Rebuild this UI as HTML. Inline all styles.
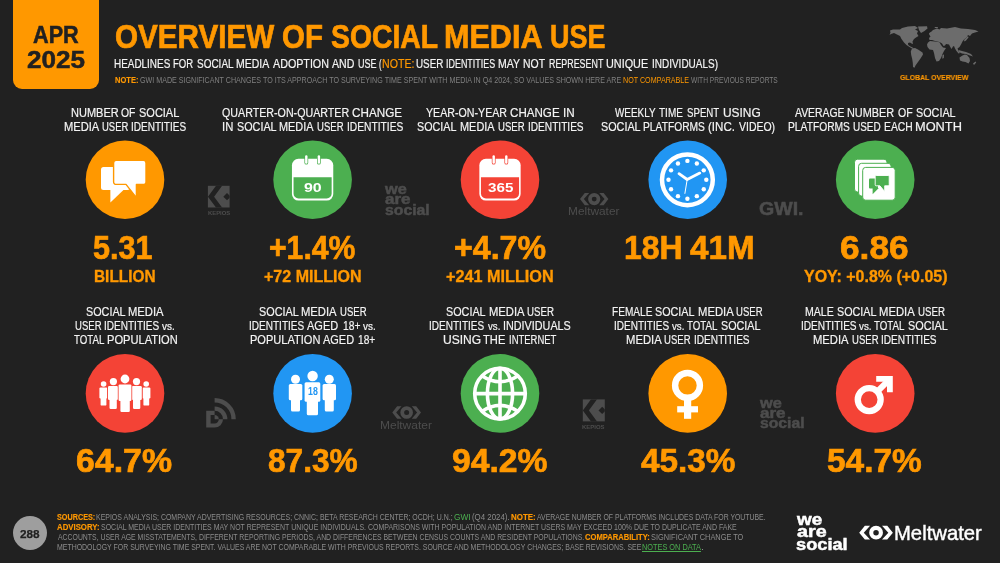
<!DOCTYPE html>
<html><head><meta charset="utf-8"><title>Overview of Social Media Use</title>
<style>
html,body{margin:0;padding:0}
body{width:1000px;height:563px;background:#212121;position:relative;overflow:hidden;-webkit-font-smoothing:antialiased;font-family:"Liberation Sans",sans-serif}
.t{position:absolute;white-space:nowrap;line-height:1;transform-origin:0 0;font-family:"Liberation Sans",sans-serif}
.abs{position:absolute}
</style></head><body>
<div id="slide" style="position:absolute;left:0;top:0;width:1000px;height:563px;will-change:transform;transform:translateZ(0)">
<div class="abs" style="left:13px;top:0;width:86px;height:88.7px;background:#ff9800;border-radius:0 0 9px 9px"></div>
<div class="abs" style="left:13px;top:515.7px;width:34px;height:34px;border-radius:50%;background:#9e9e9e"></div>
<svg class="abs" style="left:0;top:0" width="1000" height="563" viewBox="0 0 1000 563">
<polygon fill="#6c6c6c" points="890.0,30.5 893.0,29.5 900.0,29.5 902.0,28.0 908.0,26.5 915.0,26.0 918.0,28.0 915.0,29.5 918.0,31.0 917.0,33.5 918.5,36.0 916.0,37.5 914.0,39.0 912.5,41.5 913.0,44.0 911.5,43.5 910.0,42.5 908.0,43.0 908.2,45.0 910.5,46.5 912.5,47.5 914.0,48.5 912.0,48.5 909.5,47.0 906.5,45.0 904.0,42.5 901.5,39.0 900.0,36.0 897.0,34.5 894.0,33.0 891.0,34.0 889.5,35.0 890.5,32.5"/>
<polygon fill="#6c6c6c" points="918.0,26.5 927.0,26.2 927.5,28.5 924.5,31.0 921.0,33.0 919.0,30.0"/>
<polygon fill="#6c6c6c" points="912.0,48.5 915.0,48.0 918.0,49.5 922.5,52.5 923.0,54.5 920.5,58.5 918.0,62.0 915.5,65.5 914.5,67.8 913.0,67.0 912.8,63.0 912.2,59.0 911.2,55.0 910.8,51.5"/>
<polygon fill="#6c6c6c" points="929.0,33.5 931.5,31.5 933.0,30.0 937.0,28.5 939.5,29.5 941.0,28.0 947.0,28.5 955.0,27.0 961.0,28.5 968.0,29.0 975.0,30.0 978.5,31.5 975.0,32.5 972.0,33.5 970.0,36.0 968.0,35.0 966.5,37.5 964.0,39.5 962.5,41.5 961.0,44.5 959.5,47.0 957.5,48.5 958.5,51.0 960.0,53.0 958.5,53.5 956.5,51.0 955.0,48.5 954.0,46.0 953.0,46.5 951.5,49.0 950.0,46.5 949.0,44.5 946.0,44.0 945.0,45.5 943.5,46.0 942.0,43.5 939.5,42.0 937.0,41.5 935.0,41.0 932.0,40.0 929.5,40.0 929.0,38.0 930.5,36.5 929.5,35.0"/>
<polygon fill="#6c6c6c" points="928.0,42.5 930.0,41.0 935.0,41.5 939.5,42.2 941.0,45.0 943.0,47.5 946.0,48.0 944.0,51.0 942.5,54.0 941.0,58.0 939.0,61.0 936.5,61.5 935.0,58.0 934.0,53.0 933.0,50.0 929.5,49.5 927.5,47.0 927.0,44.5"/>
<polygon fill="#6c6c6c" points="959.5,57.5 962.5,55.5 965.0,54.5 967.0,55.0 969.5,58.0 970.0,61.0 968.5,63.5 965.5,62.0 962.5,61.5 960.0,60.5"/>
<polygon fill="#6c6c6c" points="958.5,50.0 962.0,51.0 966.0,52.0 971.0,54.0 973.0,56.5 970.0,55.5 966.0,54.0 962.0,53.5 959.0,52.0"/>
<polygon fill="#6c6c6c" points="942.5,55.0 944.0,54.5 943.8,58.0 942.3,58.8"/>
<polygon fill="#6c6c6c" points="973.0,63.5 975.5,61.5 976.2,62.5 974.0,65.0"/>
<polygon fill="#6c6c6c" points="964.0,40.0 966.5,37.5 968.0,36.0 968.5,37.5 966.0,40.5 964.5,41.5"/>
<polygon fill="#6c6c6c" points="929.0,33.5 930.5,32.0 931.2,34.0 930.0,35.0"/>
<polygon fill="#6c6c6c" points="934.5,27.0 938.0,27.0 937.5,28.2 935.0,28.0"/>
<circle cx="125" cy="179.7" r="39.3" fill="#ff9800"/>
<circle cx="312.6" cy="179.7" r="39.3" fill="#4caf50"/>
<circle cx="500" cy="179.7" r="39.3" fill="#f44336"/>
<circle cx="687.7" cy="179.7" r="39.3" fill="#2196f3"/>
<circle cx="875.2" cy="179.7" r="39.3" fill="#4caf50"/>
<circle cx="125" cy="393.4" r="39.3" fill="#f44336"/>
<circle cx="312.6" cy="393.4" r="39.3" fill="#2196f3"/>
<circle cx="500" cy="393.4" r="39.3" fill="#4caf50"/>
<circle cx="687.7" cy="393.4" r="39.3" fill="#ff9800"/>
<circle cx="875.2" cy="393.4" r="39.3" fill="#f44336"/>
<g fill="#fff"><rect x="101" y="167" width="29" height="23" rx="2.5"/><polygon points="110.4,189 110.4,202.4 124.5,189"/><g stroke="#ff9800" stroke-width="1.4" stroke-linejoin="round"><path d="M116.1,160.4 h27.4 a2.5,2.5 0 0 1 2.5,2.5 v19 a2.5,2.5 0 0 1 -2.5,2.5 h-7.1 v13.2 l-10.4,-13.2 h-9.9 a2.5,2.5 0 0 1 -2.5,-2.5 v-19 a2.5,2.5 0 0 1 2.5,-2.5 z"/></g></g>
<g><rect x="291.95" y="158.8" width="41.3" height="41.8" rx="6.5" fill="#fff"/>
<path d="M293.55,177.2 h38.1 v16.3 a5,5 0 0 1 -5,5 h-28.1 a5,5 0 0 1 -5,-5 z" fill="#4caf50"/>
<rect x="304.40" y="154.6" width="3.8" height="10" rx="1.9" fill="#4caf50"/>
<rect x="305.10" y="155.2" width="2.4" height="8.6" rx="1.2" fill="#fff"/>
<rect x="317.00" y="154.6" width="3.8" height="10" rx="1.9" fill="#4caf50"/>
<rect x="317.70" y="155.2" width="2.4" height="8.6" rx="1.2" fill="#fff"/>
</g>
<g><rect x="479.35" y="158.8" width="41.3" height="41.8" rx="6.5" fill="#fff"/>
<path d="M480.95,177.2 h38.1 v16.3 a5,5 0 0 1 -5,5 h-28.1 a5,5 0 0 1 -5,-5 z" fill="#f44336"/>
<rect x="491.80" y="154.6" width="3.8" height="10" rx="1.9" fill="#f44336"/>
<rect x="492.50" y="155.2" width="2.4" height="8.6" rx="1.2" fill="#fff"/>
<rect x="504.40" y="154.6" width="3.8" height="10" rx="1.9" fill="#f44336"/>
<rect x="505.10" y="155.2" width="2.4" height="8.6" rx="1.2" fill="#fff"/>
</g>
<g><circle cx="687.4" cy="179.8" r="25.4" fill="none" stroke="#fff" stroke-width="4.5"/>
<circle cx="687.40" cy="160.90" r="2.2" fill="#fff"/>
<circle cx="696.85" cy="163.43" r="2.2" fill="#fff"/>
<circle cx="703.77" cy="170.35" r="2.2" fill="#fff"/>
<circle cx="706.30" cy="179.80" r="2.2" fill="#fff"/>
<circle cx="703.77" cy="189.25" r="2.2" fill="#fff"/>
<circle cx="696.85" cy="196.17" r="2.2" fill="#fff"/>
<circle cx="687.40" cy="198.70" r="2.2" fill="#fff"/>
<circle cx="677.95" cy="196.17" r="2.2" fill="#fff"/>
<circle cx="671.03" cy="189.25" r="2.2" fill="#fff"/>
<circle cx="668.50" cy="179.80" r="2.2" fill="#fff"/>
<circle cx="671.03" cy="170.35" r="2.2" fill="#fff"/>
<circle cx="677.95" cy="163.43" r="2.2" fill="#fff"/>
<path d="M679,173.7 L687.2,179.5 L699.8,173.1" fill="none" stroke="#fff" stroke-width="2.8" stroke-linecap="round" stroke-linejoin="round"/>
<path d="M687.2,179.5 L684.9,193.4" stroke="#fff" stroke-width="1" stroke-linecap="round"/></g>
<rect x="854.5" y="159.2" width="32.5" height="32.8" rx="3" fill="#fff" stroke="#4caf50" stroke-width="1"/>
<rect x="858.6" y="163.3" width="32.5" height="32.8" rx="3" fill="#fff" stroke="#4caf50" stroke-width="1"/>
<rect x="862.7" y="167.4" width="32.5" height="32.8" rx="3" fill="#fff" stroke="#4caf50" stroke-width="1"/>
<g fill="#4caf50"><rect x="869" y="178.6" width="9" height="9.9" rx="1"/><polygon points="872.6,188 872.6,194.2 878.8,188"/><path d="M876.2,175.5 h12 a1,1 0 0 1 1,1 v8.3 a1,1 0 0 1 -1,1 h-3.5 v5.8 l-4.8,-5.8 h-3.7 a1,1 0 0 1 -1,-1 v-8.3 a1,1 0 0 1 1,-1 z" stroke="#fff" stroke-width="0.9"/></g>
<g fill="#fff"><circle cx="103.6" cy="384.0" r="2.8"/><rect x="99.4" y="387.4" width="8.0" height="11.1" rx="1.2"/><rect x="100.6" y="389.4" width="5.8" height="16.2" rx="1.2"/></g>
<g fill="#fff"><circle cx="146.2" cy="384.0" r="2.8"/><rect x="142.4" y="387.4" width="8.0" height="11.1" rx="1.2"/><rect x="143.4" y="389.4" width="5.8" height="16.2" rx="1.2"/></g>
<g fill="#f44336" stroke="#f44336" stroke-width="1.6"><circle cx="113.4" cy="381.6" r="3.6"/><rect x="108.0" y="386.0" width="10.0" height="14.0" rx="1.2"/><rect x="109.5" y="388.0" width="7.3" height="21.0" rx="1.2"/></g>
<g fill="#fff"><circle cx="113.4" cy="381.6" r="3.6"/><rect x="108.0" y="386.0" width="10.0" height="14.0" rx="1.2"/><rect x="109.5" y="388.0" width="7.3" height="21.0" rx="1.2"/></g>
<g fill="#f44336" stroke="#f44336" stroke-width="1.6"><circle cx="136.5" cy="381.6" r="3.6"/><rect x="131.8" y="386.0" width="10.0" height="14.0" rx="1.2"/><rect x="133.0" y="388.0" width="7.3" height="21.0" rx="1.2"/></g>
<g fill="#fff"><circle cx="136.5" cy="381.6" r="3.6"/><rect x="131.8" y="386.0" width="10.0" height="14.0" rx="1.2"/><rect x="133.0" y="388.0" width="7.3" height="21.0" rx="1.2"/></g>
<g fill="#f44336" stroke="#f44336" stroke-width="1.6"><circle cx="125.0" cy="379.0" r="4.4"/><rect x="118.6" y="384.4" width="12.8" height="16.6" rx="1.2"/><rect x="120.4" y="386.4" width="9.4" height="25.6" rx="1.2"/></g>
<g fill="#fff"><circle cx="125.0" cy="379.0" r="4.4"/><rect x="118.6" y="384.4" width="12.8" height="16.6" rx="1.2"/><rect x="120.4" y="386.4" width="9.4" height="25.6" rx="1.2"/></g>
<g fill="#fff"><circle cx="295.5" cy="379.2" r="4.5"/><rect x="288.8" y="384.1" width="13.5" height="16.2" rx="1.5"/><rect x="291.0" y="386.1" width="9.0" height="25.4" rx="1.5"/></g>
<g fill="#fff"><circle cx="329.3" cy="379.2" r="4.5"/><rect x="322.6" y="384.1" width="13.4" height="16.2" rx="1.5"/><rect x="324.8" y="386.1" width="9.0" height="25.4" rx="1.5"/></g>
<g fill="#2196f3" stroke="#2196f3" stroke-width="2"><circle cx="312.6" cy="376.0" r="5.2"/><rect x="304.6" y="382.3" width="15.7" height="19.4" rx="1.5"/><rect x="306.8" y="384.3" width="11.2" height="30.9" rx="1.5"/></g>
<g fill="#fff"><circle cx="312.6" cy="376.0" r="5.2"/><rect x="304.6" y="382.3" width="15.7" height="19.4" rx="1.5"/><rect x="306.8" y="384.3" width="11.2" height="30.9" rx="1.5"/></g>
<g fill="none" stroke="#fff" stroke-width="3.6"><circle cx="500" cy="393.6" r="25.3"/><ellipse cx="500" cy="393.6" rx="12.6" ry="25.3"/><path d="M500,367.6 v52 M474,393.6 h52"/>
<path d="M481.5,375.5 Q500,388 518.5,375.5 M481.5,411.7 Q500,399.2 518.5,411.7"/></g>
<g><circle cx="687.5" cy="385.4" r="12.4" fill="none" stroke="#fff" stroke-width="6.4"/><rect x="684" y="399" width="7.2" height="19.8" fill="#fff"/><rect x="677.2" y="406.2" width="20.8" height="6.2" fill="#fff"/></g>
<g><circle cx="869.2" cy="399.6" r="11.45" fill="none" stroke="#fff" stroke-width="6.3"/><path d="M876.5,392.3 L889.5,379.3" stroke="#fff" stroke-width="6"/><path d="M876.2,376 H892.8 V392.2 H887 V381.8 H876.2 Z" fill="#fff"/></g>
<g><rect x="207.9" y="185.8" width="21.7" height="21.7" fill="#4d4d4d"/>
<clipPath id="k207"><rect x="207.9" y="185.8" width="21.7" height="21.7"/></clipPath>
<g clip-path="url(#k207)"><path d="M220.5,183.8 L211.0,196.7 L220.5,209.5" fill="none" stroke="#212121" stroke-width="4.9"/>
<polygon points="223.3,196.7 227.0,193.0 230.7,196.7 227.0,200.3" fill="#212121"/></g></g>
<g><rect x="582.8" y="399.4" width="22.0" height="22.0" fill="#4d4d4d"/>
<clipPath id="k582"><rect x="582.8" y="399.4" width="22.0" height="22.0"/></clipPath>
<g clip-path="url(#k582)"><path d="M595.4,397.4 L585.9,410.4 L595.4,423.4" fill="none" stroke="#212121" stroke-width="4.9"/>
<polygon points="598.5,410.4 602.2,406.7 605.9,410.4 602.2,414.1" fill="#212121"/></g></g>
<g><polygon points="859.20,532.70 864.85,525.80 870.10,525.80 863.76,532.70 870.10,539.60 864.85,539.60" fill="#fff"/><polygon points="892.90,532.70 887.25,525.80 882.00,525.80 888.34,532.70 882.00,539.60 887.25,539.60" fill="#fff"/>
<circle cx="876.05" cy="532.70" r="8.09" fill="#212121"/>
<circle cx="876.05" cy="532.70" r="4.83" fill="none" stroke="#fff" stroke-width="4.14"/></g>
<g><polygon points="580.00,199.10 584.76,193.00 589.19,193.00 583.84,199.10 589.19,205.20 584.76,205.20" fill="#4d4d4d"/><polygon points="608.40,199.10 603.64,193.00 599.21,193.00 604.56,199.10 599.21,205.20 603.64,205.20" fill="#4d4d4d"/>
<circle cx="594.20" cy="199.10" r="7.10" fill="#212121"/>
<circle cx="594.20" cy="199.10" r="4.27" fill="none" stroke="#4d4d4d" stroke-width="3.66"/></g>
<g><polygon points="392.30,412.50 397.11,406.20 401.59,406.20 396.18,412.50 401.59,418.80 397.11,418.80" fill="#4d4d4d"/><polygon points="421.00,412.50 416.19,406.20 411.71,406.20 417.12,412.50 411.71,418.80 416.19,418.80" fill="#4d4d4d"/>
<circle cx="406.65" cy="412.50" r="7.31" fill="#212121"/>
<circle cx="406.65" cy="412.50" r="4.41" fill="none" stroke="#4d4d4d" stroke-width="3.78"/></g>
<g>
<path d="M214.60,410.80 H206.20 V427.60 H214.60 A8.4,8.4 0 0 0 223.00,419.20 H218.80 A4.2,4.2 0 0 1 214.60,423.40 H210.60 V415.00 H214.60 V410.80 Z" fill="#4d4d4d"/>
<path d="M214.60,419.20 V415.00 A4.2,4.2 0 0 1 218.80,419.20 Z" fill="#4d4d4d"/>
<path d="M214.60,408.60 A10.60,10.60 0 0 1 225.20,419.20" fill="none" stroke="#4d4d4d" stroke-width="4.40"/>
<path d="M214.60,400.20 A19.00,19.00 0 0 1 233.60,419.20" fill="none" stroke="#4d4d4d" stroke-width="4.40"/>
</g>
</svg>
<span class="t" style="left:32.91px;top:23.25px;font-size:23.84px;font-weight:700;color:#212121;transform:scaleX(0.9093);-webkit-text-stroke:0.5px #212121;">APR</span>
<span class="t" style="left:26.69px;top:48.00px;font-size:24.13px;font-weight:700;color:#212121;transform:scaleX(1.0806);-webkit-text-stroke:0.5px #212121;">2025</span>
<span class="t" style="left:115.17px;top:21.25px;font-size:32.34px;font-weight:700;color:#ff9800;transform:scaleX(0.9171);-webkit-text-stroke:0.7px #ff9800;">OVERVIEW</span>
<span class="t" style="left:282.38px;top:21.25px;font-size:32.34px;font-weight:700;color:#ff9800;transform:scaleX(0.9104);-webkit-text-stroke:0.7px #ff9800;">OF</span>
<span class="t" style="left:330.96px;top:21.25px;font-size:32.34px;font-weight:700;color:#ff9800;transform:scaleX(0.8771);-webkit-text-stroke:0.7px #ff9800;">SOCIAL</span>
<span class="t" style="left:444.09px;top:21.25px;font-size:32.34px;font-weight:700;color:#ff9800;transform:scaleX(0.9455);-webkit-text-stroke:0.7px #ff9800;">MEDIA</span>
<span class="t" style="left:549.74px;top:21.25px;font-size:32.34px;font-weight:700;color:#ff9800;transform:scaleX(0.8329);-webkit-text-stroke:0.7px #ff9800;">USE</span>
<span class="t" style="left:114.22px;top:58.00px;font-size:12.21px;font-weight:400;color:#f4f4f4;transform:scaleX(0.8133);-webkit-text-stroke:0.2px #f4f4f4;">HEADLINES</span>
<span class="t" style="left:173.26px;top:58.00px;font-size:12.21px;font-weight:400;color:#f4f4f4;transform:scaleX(0.7801);-webkit-text-stroke:0.2px #f4f4f4;">FOR</span>
<span class="t" style="left:196.69px;top:58.00px;font-size:12.21px;font-weight:400;color:#f4f4f4;transform:scaleX(0.8176);-webkit-text-stroke:0.2px #f4f4f4;">SOCIAL</span>
<span class="t" style="left:236.18px;top:58.00px;font-size:12.21px;font-weight:400;color:#f4f4f4;transform:scaleX(0.8591);-webkit-text-stroke:0.2px #f4f4f4;">MEDIA</span>
<span class="t" style="left:273.00px;top:58.00px;font-size:12.21px;font-weight:400;color:#f4f4f4;transform:scaleX(0.8777);-webkit-text-stroke:0.2px #f4f4f4;">ADOPTION</span>
<span class="t" style="left:332.00px;top:58.00px;font-size:12.21px;font-weight:400;color:#f4f4f4;transform:scaleX(0.8692);-webkit-text-stroke:0.2px #f4f4f4;">AND</span>
<span class="t" style="left:357.84px;top:58.00px;font-size:12.21px;font-weight:400;color:#f4f4f4;transform:scaleX(0.7399);-webkit-text-stroke:0.2px #f4f4f4;">USE</span>
<span class="t" style="left:379.03px;top:58.00px;font-size:12.21px;font-weight:400;color:#f4f4f4;transform:scaleX(0.6413);-webkit-text-stroke:0.2px #f4f4f4;">(</span>
<span class="t" style="left:381.57px;top:58.00px;font-size:12.21px;font-weight:400;color:#ff9800;transform:scaleX(0.8695);-webkit-text-stroke:0.2px #ff9800;">NOTE:</span>
<span class="t" style="left:415.98px;top:58.00px;font-size:12.21px;font-weight:400;color:#f4f4f4;transform:scaleX(0.8076);-webkit-text-stroke:0.2px #f4f4f4;">USER</span>
<span class="t" style="left:446.30px;top:58.00px;font-size:12.21px;font-weight:400;color:#f4f4f4;transform:scaleX(0.7319);-webkit-text-stroke:0.2px #f4f4f4;">IDENTITIES</span>
<span class="t" style="left:498.18px;top:58.00px;font-size:12.21px;font-weight:400;color:#f4f4f4;transform:scaleX(0.8596);-webkit-text-stroke:0.2px #f4f4f4;">MAY</span>
<span class="t" style="left:523.18px;top:58.00px;font-size:12.21px;font-weight:400;color:#f4f4f4;transform:scaleX(0.8546);-webkit-text-stroke:0.2px #f4f4f4;">NOT</span>
<span class="t" style="left:548.91px;top:58.00px;font-size:12.21px;font-weight:400;color:#f4f4f4;transform:scaleX(0.7281);-webkit-text-stroke:0.2px #f4f4f4;">REPRESENT</span>
<span class="t" style="left:606.32px;top:58.00px;font-size:12.21px;font-weight:400;color:#f4f4f4;transform:scaleX(0.8888);-webkit-text-stroke:0.2px #f4f4f4;">UNIQUE</span>
<span class="t" style="left:651.62px;top:58.00px;font-size:12.21px;font-weight:400;color:#f4f4f4;transform:scaleX(0.8176);-webkit-text-stroke:0.2px #f4f4f4;">INDIVIDUALS)</span>
<span class="t" style="left:114.53px;top:76.70px;font-size:8.14px;font-weight:700;color:#ff9800;transform:scaleX(0.9296);-webkit-text-stroke:0.15px #ff9800;">NOTE:</span>
<span class="t" style="left:140.07px;top:76.70px;font-size:8.14px;font-weight:400;color:#808080;transform:scaleX(0.8773);">GWI MADE SIGNIFICANT CHANGES TO ITS APPROACH TO SURVEYING TIME SPENT WITH MEDIA IN Q4 2024, SO VALUES SHOWN HERE ARE</span>
<span class="t" style="left:623.19px;top:76.70px;font-size:8.14px;font-weight:400;color:#ff9800;transform:scaleX(0.8802);">NOT COMPARABLE</span>
<span class="t" style="left:691.00px;top:76.70px;font-size:8.14px;font-weight:400;color:#808080;transform:scaleX(0.8157);">WITH PREVIOUS REPORTS</span>
<span class="t" style="left:899.58px;top:73.90px;font-size:7.70px;font-weight:700;color:#ff9800;transform:scaleX(0.9023);-webkit-text-stroke:0.15px #ff9800;">GLOBAL OVERVIEW</span>
<span class="t" style="left:70.54px;top:105.50px;font-size:13.08px;font-weight:400;color:#f4f4f4;transform:scaleX(0.8422);-webkit-text-stroke:0.2px #f4f4f4;">NUMBER</span>
<span class="t" style="left:121.31px;top:105.50px;font-size:13.08px;font-weight:400;color:#f4f4f4;transform:scaleX(0.7939);-webkit-text-stroke:0.2px #f4f4f4;">OF</span>
<span class="t" style="left:138.96px;top:105.50px;font-size:13.08px;font-weight:400;color:#f4f4f4;transform:scaleX(0.8402);-webkit-text-stroke:0.2px #f4f4f4;">SOCIAL</span>
<span class="t" style="left:63.73px;top:119.60px;font-size:13.08px;font-weight:400;color:#f4f4f4;transform:scaleX(0.8501);-webkit-text-stroke:0.2px #f4f4f4;">MEDIA</span>
<span class="t" style="left:102.31px;top:119.60px;font-size:13.08px;font-weight:400;color:#f4f4f4;transform:scaleX(0.7242);-webkit-text-stroke:0.2px #f4f4f4;">USER</span>
<span class="t" style="left:131.42px;top:119.60px;font-size:13.08px;font-weight:400;color:#f4f4f4;transform:scaleX(0.7660);-webkit-text-stroke:0.2px #f4f4f4;">IDENTITIES</span>
<span class="t" style="left:222.30px;top:105.50px;font-size:13.08px;font-weight:400;color:#f4f4f4;transform:scaleX(0.8165);-webkit-text-stroke:0.2px #f4f4f4;">QUARTER-ON-QUARTER</span>
<span class="t" style="left:352.35px;top:105.50px;font-size:13.08px;font-weight:400;color:#f4f4f4;transform:scaleX(0.8943);-webkit-text-stroke:0.2px #f4f4f4;">CHANGE</span>
<span class="t" style="left:221.92px;top:119.60px;font-size:13.08px;font-weight:400;color:#f4f4f4;transform:scaleX(0.8632);-webkit-text-stroke:0.2px #f4f4f4;">IN</span>
<span class="t" style="left:236.66px;top:119.60px;font-size:13.08px;font-weight:400;color:#f4f4f4;transform:scaleX(0.8254);-webkit-text-stroke:0.2px #f4f4f4;">SOCIAL</span>
<span class="t" style="left:279.45px;top:119.60px;font-size:13.08px;font-weight:400;color:#f4f4f4;transform:scaleX(0.8328);-webkit-text-stroke:0.2px #f4f4f4;">MEDIA</span>
<span class="t" style="left:317.20px;top:119.60px;font-size:13.08px;font-weight:400;color:#f4f4f4;transform:scaleX(0.7299);-webkit-text-stroke:0.2px #f4f4f4;">USER</span>
<span class="t" style="left:346.80px;top:119.60px;font-size:13.08px;font-weight:400;color:#f4f4f4;transform:scaleX(0.7830);-webkit-text-stroke:0.2px #f4f4f4;">IDENTITIES</span>
<span class="t" style="left:425.63px;top:105.50px;font-size:13.08px;font-weight:400;color:#f4f4f4;transform:scaleX(0.8139);-webkit-text-stroke:0.2px #f4f4f4;">YEAR-ON-YEAR</span>
<span class="t" style="left:509.86px;top:105.50px;font-size:13.08px;font-weight:400;color:#f4f4f4;transform:scaleX(0.8870);-webkit-text-stroke:0.2px #f4f4f4;">CHANGE</span>
<span class="t" style="left:563.49px;top:105.50px;font-size:13.08px;font-weight:400;color:#f4f4f4;transform:scaleX(0.8905);-webkit-text-stroke:0.2px #f4f4f4;">IN</span>
<span class="t" style="left:417.26px;top:119.60px;font-size:13.08px;font-weight:400;color:#f4f4f4;transform:scaleX(0.8212);-webkit-text-stroke:0.2px #f4f4f4;">SOCIAL</span>
<span class="t" style="left:459.95px;top:119.60px;font-size:13.08px;font-weight:400;color:#f4f4f4;transform:scaleX(0.8353);-webkit-text-stroke:0.2px #f4f4f4;">MEDIA</span>
<span class="t" style="left:498.00px;top:119.60px;font-size:13.08px;font-weight:400;color:#f4f4f4;transform:scaleX(0.7328);-webkit-text-stroke:0.2px #f4f4f4;">USER</span>
<span class="t" style="left:527.61px;top:119.60px;font-size:13.08px;font-weight:400;color:#f4f4f4;transform:scaleX(0.7731);-webkit-text-stroke:0.2px #f4f4f4;">IDENTITIES</span>
<span class="t" style="left:615.30px;top:105.50px;font-size:13.08px;font-weight:400;color:#f4f4f4;transform:scaleX(0.7583);-webkit-text-stroke:0.2px #f4f4f4;">WEEKLY</span>
<span class="t" style="left:659.34px;top:105.50px;font-size:13.08px;font-weight:400;color:#f4f4f4;transform:scaleX(0.7640);-webkit-text-stroke:0.2px #f4f4f4;">TIME</span>
<span class="t" style="left:686.80px;top:105.50px;font-size:13.08px;font-weight:400;color:#f4f4f4;transform:scaleX(0.7399);-webkit-text-stroke:0.2px #f4f4f4;">SPENT</span>
<span class="t" style="left:722.56px;top:105.50px;font-size:13.08px;font-weight:400;color:#f4f4f4;transform:scaleX(0.9110);-webkit-text-stroke:0.2px #f4f4f4;">USING</span>
<span class="t" style="left:600.86px;top:119.60px;font-size:13.08px;font-weight:400;color:#f4f4f4;transform:scaleX(0.8254);-webkit-text-stroke:0.2px #f4f4f4;">SOCIAL</span>
<span class="t" style="left:643.40px;top:119.60px;font-size:13.08px;font-weight:400;color:#f4f4f4;transform:scaleX(0.7843);-webkit-text-stroke:0.2px #f4f4f4;">PLATFORMS</span>
<span class="t" style="left:708.06px;top:119.60px;font-size:13.08px;font-weight:400;color:#f4f4f4;transform:scaleX(0.8844);-webkit-text-stroke:0.2px #f4f4f4;">(INC.</span>
<span class="t" style="left:738.60px;top:119.60px;font-size:13.08px;font-weight:400;color:#f4f4f4;transform:scaleX(0.7998);-webkit-text-stroke:0.2px #f4f4f4;">VIDEO)</span>
<span class="t" style="left:794.70px;top:105.50px;font-size:13.08px;font-weight:400;color:#f4f4f4;transform:scaleX(0.7956);-webkit-text-stroke:0.2px #f4f4f4;">AVERAGE</span>
<span class="t" style="left:847.15px;top:105.50px;font-size:13.08px;font-weight:400;color:#f4f4f4;transform:scaleX(0.8332);-webkit-text-stroke:0.2px #f4f4f4;">NUMBER</span>
<span class="t" style="left:897.61px;top:105.50px;font-size:13.08px;font-weight:400;color:#f4f4f4;transform:scaleX(0.8056);-webkit-text-stroke:0.2px #f4f4f4;">OF</span>
<span class="t" style="left:915.76px;top:105.50px;font-size:13.08px;font-weight:400;color:#f4f4f4;transform:scaleX(0.8254);-webkit-text-stroke:0.2px #f4f4f4;">SOCIAL</span>
<span class="t" style="left:788.40px;top:119.60px;font-size:13.08px;font-weight:400;color:#f4f4f4;transform:scaleX(0.7843);-webkit-text-stroke:0.2px #f4f4f4;">PLATFORMS</span>
<span class="t" style="left:853.28px;top:119.60px;font-size:13.08px;font-weight:400;color:#f4f4f4;transform:scaleX(0.7613);-webkit-text-stroke:0.2px #f4f4f4;">USED</span>
<span class="t" style="left:883.99px;top:119.60px;font-size:13.08px;font-weight:400;color:#f4f4f4;transform:scaleX(0.7911);-webkit-text-stroke:0.2px #f4f4f4;">EACH</span>
<span class="t" style="left:915.10px;top:119.60px;font-size:13.08px;font-weight:400;color:#f4f4f4;transform:scaleX(0.9790);-webkit-text-stroke:0.2px #f4f4f4;">MONTH</span>
<span class="t" style="left:93.27px;top:230.75px;font-size:33.58px;font-weight:700;color:#ff9800;transform:scaleX(0.9106);-webkit-text-stroke:0.7px #ff9800;">5.31</span>
<span class="t" style="left:269.06px;top:230.75px;font-size:33.58px;font-weight:700;color:#ff9800;transform:scaleX(0.8987);-webkit-text-stroke:0.7px #ff9800;">+1.4%</span>
<span class="t" style="left:453.50px;top:230.75px;font-size:33.58px;font-weight:700;color:#ff9800;transform:scaleX(0.9568);-webkit-text-stroke:0.7px #ff9800;">+4.7%</span>
<span class="t" style="left:623.50px;top:230.75px;font-size:33.58px;font-weight:700;color:#ff9800;transform:scaleX(0.9517);-webkit-text-stroke:0.7px #ff9800;">18H</span>
<span class="t" style="left:689.50px;top:230.75px;font-size:33.58px;font-weight:700;color:#ff9800;transform:scaleX(0.9896);-webkit-text-stroke:0.7px #ff9800;">41M</span>
<span class="t" style="left:840.10px;top:230.75px;font-size:33.58px;font-weight:700;color:#ff9800;transform:scaleX(1.0498);-webkit-text-stroke:0.7px #ff9800;">6.86</span>
<span class="t" style="left:94.04px;top:268.50px;font-size:15.99px;font-weight:700;color:#ff9800;transform:scaleX(0.9624);-webkit-text-stroke:0.35px #ff9800;">BILLION</span>
<span class="t" style="left:264.00px;top:268.50px;font-size:15.99px;font-weight:700;color:#ff9800;transform:scaleX(1.0040);-webkit-text-stroke:0.35px #ff9800;">+72 MILLION</span>
<span class="t" style="left:445.99px;top:268.50px;font-size:15.99px;font-weight:700;color:#ff9800;transform:scaleX(1.0144);-webkit-text-stroke:0.35px #ff9800;">+241 MILLION</span>
<span class="t" style="left:803.95px;top:268.50px;font-size:15.99px;font-weight:700;color:#ff9800;transform:scaleX(0.9988);-webkit-text-stroke:0.35px #ff9800;">YOY: +0.8% (+0.05)</span>
<span class="t" style="left:86.26px;top:305.10px;font-size:13.08px;font-weight:400;color:#f4f4f4;transform:scaleX(0.8254);-webkit-text-stroke:0.2px #f4f4f4;">SOCIAL</span>
<span class="t" style="left:128.32px;top:305.10px;font-size:13.08px;font-weight:400;color:#f4f4f4;transform:scaleX(0.8600);-webkit-text-stroke:0.2px #f4f4f4;">MEDIA</span>
<span class="t" style="left:75.40px;top:319.00px;font-size:13.08px;font-weight:400;color:#f4f4f4;transform:scaleX(0.7299);-webkit-text-stroke:0.2px #f4f4f4;">USER</span>
<span class="t" style="left:104.42px;top:319.00px;font-size:13.08px;font-weight:400;color:#f4f4f4;transform:scaleX(0.7674);-webkit-text-stroke:0.2px #f4f4f4;">IDENTITIES</span>
<span class="t" style="left:162.40px;top:322.00px;font-size:10.30px;font-weight:400;color:#f4f4f4;transform:scaleX(0.9639);-webkit-text-stroke:0.2px #f4f4f4;">vs.</span>
<span class="t" style="left:73.85px;top:333.00px;font-size:13.08px;font-weight:400;color:#f4f4f4;transform:scaleX(0.7422);-webkit-text-stroke:0.2px #f4f4f4;">TOTAL</span>
<span class="t" style="left:106.73px;top:333.00px;font-size:13.08px;font-weight:400;color:#f4f4f4;transform:scaleX(0.8492);-webkit-text-stroke:0.2px #f4f4f4;">POPULATION</span>
<span class="t" style="left:258.86px;top:305.10px;font-size:13.08px;font-weight:400;color:#f4f4f4;transform:scaleX(0.8275);-webkit-text-stroke:0.2px #f4f4f4;">SOCIAL</span>
<span class="t" style="left:301.12px;top:305.10px;font-size:13.08px;font-weight:400;color:#f4f4f4;transform:scaleX(0.8600);-webkit-text-stroke:0.2px #f4f4f4;">MEDIA</span>
<span class="t" style="left:339.60px;top:305.10px;font-size:13.08px;font-weight:400;color:#f4f4f4;transform:scaleX(0.7299);-webkit-text-stroke:0.2px #f4f4f4;">USER</span>
<span class="t" style="left:249.32px;top:319.00px;font-size:13.08px;font-weight:400;color:#f4f4f4;transform:scaleX(0.7674);-webkit-text-stroke:0.2px #f4f4f4;">IDENTITIES</span>
<span class="t" style="left:307.40px;top:319.00px;font-size:13.08px;font-weight:400;color:#f4f4f4;transform:scaleX(0.8410);-webkit-text-stroke:0.2px #f4f4f4;">AGED</span>
<span class="t" style="left:342.96px;top:319.00px;font-size:13.08px;font-weight:400;color:#f4f4f4;transform:scaleX(0.7853);-webkit-text-stroke:0.2px #f4f4f4;">18+</span>
<span class="t" style="left:363.10px;top:322.00px;font-size:10.30px;font-weight:400;color:#f4f4f4;transform:scaleX(0.9639);-webkit-text-stroke:0.2px #f4f4f4;">vs.</span>
<span class="t" style="left:249.84px;top:333.00px;font-size:13.08px;font-weight:400;color:#f4f4f4;transform:scaleX(0.8443);-webkit-text-stroke:0.2px #f4f4f4;">POPULATION</span>
<span class="t" style="left:323.00px;top:333.00px;font-size:13.08px;font-weight:400;color:#f4f4f4;transform:scaleX(0.8382);-webkit-text-stroke:0.2px #f4f4f4;">AGED</span>
<span class="t" style="left:358.47px;top:333.00px;font-size:13.08px;font-weight:400;color:#f4f4f4;transform:scaleX(0.7757);-webkit-text-stroke:0.2px #f4f4f4;">18+</span>
<span class="t" style="left:446.36px;top:305.10px;font-size:13.08px;font-weight:400;color:#f4f4f4;transform:scaleX(0.8254);-webkit-text-stroke:0.2px #f4f4f4;">SOCIAL</span>
<span class="t" style="left:488.62px;top:305.10px;font-size:13.08px;font-weight:400;color:#f4f4f4;transform:scaleX(0.8600);-webkit-text-stroke:0.2px #f4f4f4;">MEDIA</span>
<span class="t" style="left:527.09px;top:305.10px;font-size:13.08px;font-weight:400;color:#f4f4f4;transform:scaleX(0.7413);-webkit-text-stroke:0.2px #f4f4f4;">USER</span>
<span class="t" style="left:429.42px;top:319.00px;font-size:13.08px;font-weight:400;color:#f4f4f4;transform:scaleX(0.7674);-webkit-text-stroke:0.2px #f4f4f4;">IDENTITIES</span>
<span class="t" style="left:487.70px;top:322.00px;font-size:10.30px;font-weight:400;color:#f4f4f4;transform:scaleX(0.9394);-webkit-text-stroke:0.2px #f4f4f4;">vs.</span>
<span class="t" style="left:502.86px;top:319.00px;font-size:13.08px;font-weight:400;color:#f4f4f4;transform:scaleX(0.8255);-webkit-text-stroke:0.2px #f4f4f4;">INDIVIDUALS</span>
<span class="t" style="left:442.95px;top:333.00px;font-size:13.08px;font-weight:400;color:#f4f4f4;transform:scaleX(0.9211);-webkit-text-stroke:0.2px #f4f4f4;">USING</span>
<span class="t" style="left:483.33px;top:333.00px;font-size:13.08px;font-weight:400;color:#f4f4f4;transform:scaleX(0.8537);-webkit-text-stroke:0.2px #f4f4f4;">THE</span>
<span class="t" style="left:508.56px;top:333.00px;font-size:13.08px;font-weight:400;color:#f4f4f4;transform:scaleX(0.7247);-webkit-text-stroke:0.2px #f4f4f4;">INTERNET</span>
<span class="t" style="left:611.81px;top:305.10px;font-size:13.08px;font-weight:400;color:#f4f4f4;transform:scaleX(0.7723);-webkit-text-stroke:0.2px #f4f4f4;">FEMALE</span>
<span class="t" style="left:655.46px;top:305.10px;font-size:13.08px;font-weight:400;color:#f4f4f4;transform:scaleX(0.8233);-webkit-text-stroke:0.2px #f4f4f4;">SOCIAL</span>
<span class="t" style="left:697.62px;top:305.10px;font-size:13.08px;font-weight:400;color:#f4f4f4;transform:scaleX(0.8625);-webkit-text-stroke:0.2px #f4f4f4;">MEDIA</span>
<span class="t" style="left:736.30px;top:305.10px;font-size:13.08px;font-weight:400;color:#f4f4f4;transform:scaleX(0.7299);-webkit-text-stroke:0.2px #f4f4f4;">USER</span>
<span class="t" style="left:613.92px;top:319.00px;font-size:13.08px;font-weight:400;color:#f4f4f4;transform:scaleX(0.7660);-webkit-text-stroke:0.2px #f4f4f4;">IDENTITIES</span>
<span class="t" style="left:672.30px;top:322.00px;font-size:10.30px;font-weight:400;color:#f4f4f4;transform:scaleX(0.9394);-webkit-text-stroke:0.2px #f4f4f4;">vs.</span>
<span class="t" style="left:686.85px;top:319.00px;font-size:13.08px;font-weight:400;color:#f4f4f4;transform:scaleX(0.7446);-webkit-text-stroke:0.2px #f4f4f4;">TOTAL</span>
<span class="t" style="left:721.06px;top:319.00px;font-size:13.08px;font-weight:400;color:#f4f4f4;transform:scaleX(0.8233);-webkit-text-stroke:0.2px #f4f4f4;">SOCIAL</span>
<span class="t" style="left:625.62px;top:333.00px;font-size:13.08px;font-weight:400;color:#f4f4f4;transform:scaleX(0.8625);-webkit-text-stroke:0.2px #f4f4f4;">MEDIA</span>
<span class="t" style="left:664.30px;top:333.00px;font-size:13.08px;font-weight:400;color:#f4f4f4;transform:scaleX(0.7299);-webkit-text-stroke:0.2px #f4f4f4;">USER</span>
<span class="t" style="left:693.91px;top:333.00px;font-size:13.08px;font-weight:400;color:#f4f4f4;transform:scaleX(0.7731);-webkit-text-stroke:0.2px #f4f4f4;">IDENTITIES</span>
<span class="t" style="left:805.07px;top:305.10px;font-size:13.08px;font-weight:400;color:#f4f4f4;transform:scaleX(0.8075);-webkit-text-stroke:0.2px #f4f4f4;">MALE</span>
<span class="t" style="left:837.06px;top:305.10px;font-size:13.08px;font-weight:400;color:#f4f4f4;transform:scaleX(0.8233);-webkit-text-stroke:0.2px #f4f4f4;">SOCIAL</span>
<span class="t" style="left:879.22px;top:305.10px;font-size:13.08px;font-weight:400;color:#f4f4f4;transform:scaleX(0.8625);-webkit-text-stroke:0.2px #f4f4f4;">MEDIA</span>
<span class="t" style="left:917.89px;top:305.10px;font-size:13.08px;font-weight:400;color:#f4f4f4;transform:scaleX(0.7442);-webkit-text-stroke:0.2px #f4f4f4;">USER</span>
<span class="t" style="left:800.61px;top:319.00px;font-size:13.08px;font-weight:400;color:#f4f4f4;transform:scaleX(0.7731);-webkit-text-stroke:0.2px #f4f4f4;">IDENTITIES</span>
<span class="t" style="left:859.30px;top:322.00px;font-size:10.30px;font-weight:400;color:#f4f4f4;transform:scaleX(0.9558);-webkit-text-stroke:0.2px #f4f4f4;">vs.</span>
<span class="t" style="left:874.35px;top:319.00px;font-size:13.08px;font-weight:400;color:#f4f4f4;transform:scaleX(0.7446);-webkit-text-stroke:0.2px #f4f4f4;">TOTAL</span>
<span class="t" style="left:908.26px;top:319.00px;font-size:13.08px;font-weight:400;color:#f4f4f4;transform:scaleX(0.8296);-webkit-text-stroke:0.2px #f4f4f4;">SOCIAL</span>
<span class="t" style="left:813.02px;top:333.00px;font-size:13.08px;font-weight:400;color:#f4f4f4;transform:scaleX(0.8576);-webkit-text-stroke:0.2px #f4f4f4;">MEDIA</span>
<span class="t" style="left:851.70px;top:333.00px;font-size:13.08px;font-weight:400;color:#f4f4f4;transform:scaleX(0.7299);-webkit-text-stroke:0.2px #f4f4f4;">USER</span>
<span class="t" style="left:881.41px;top:333.00px;font-size:13.08px;font-weight:400;color:#f4f4f4;transform:scaleX(0.7731);-webkit-text-stroke:0.2px #f4f4f4;">IDENTITIES</span>
<span class="t" style="left:76.44px;top:444.00px;font-size:33.58px;font-weight:700;color:#ff9800;transform:scaleX(1.0091);-webkit-text-stroke:0.7px #ff9800;">64.7%</span>
<span class="t" style="left:267.76px;top:444.00px;font-size:33.58px;font-weight:700;color:#ff9800;transform:scaleX(0.9424);-webkit-text-stroke:0.7px #ff9800;">87.3%</span>
<span class="t" style="left:451.95px;top:444.00px;font-size:33.58px;font-weight:700;color:#ff9800;transform:scaleX(1.0038);-webkit-text-stroke:0.7px #ff9800;">94.2%</span>
<span class="t" style="left:640.50px;top:444.00px;font-size:33.58px;font-weight:700;color:#ff9800;transform:scaleX(0.9926);-webkit-text-stroke:0.7px #ff9800;">45.3%</span>
<span class="t" style="left:827.48px;top:444.00px;font-size:33.58px;font-weight:700;color:#ff9800;transform:scaleX(0.9950);-webkit-text-stroke:0.7px #ff9800;">54.7%</span>
<span class="t" style="left:57.39px;top:514.00px;font-size:8.14px;font-weight:700;color:#ff9800;transform:scaleX(0.8910);-webkit-text-stroke:0.15px #ff9800;">SOURCES:</span>
<span class="t" style="left:96.45px;top:514.00px;font-size:8.14px;font-weight:400;color:#8c8c8c;transform:scaleX(0.8572);">KEPIOS ANALYSIS; COMPANY ADVERTISING RESOURCES; CNNIC; BETA RESEARCH CENTER; OCDH; U.N.;</span>
<span class="t" style="left:454.11px;top:514.00px;font-size:8.14px;font-weight:400;color:#4caf50;transform:scaleX(1.0242);">GWI</span>
<span class="t" style="left:472.13px;top:514.00px;font-size:8.14px;font-weight:400;color:#8c8c8c;transform:scaleX(0.9675);">(Q4 2024).</span>
<span class="t" style="left:511.00px;top:514.00px;font-size:8.14px;font-weight:700;color:#ff9800;transform:scaleX(0.9752);-webkit-text-stroke:0.15px #ff9800;">NOTE:</span>
<span class="t" style="left:537.00px;top:514.00px;font-size:8.14px;font-weight:400;color:#8c8c8c;transform:scaleX(0.8478);">AVERAGE NUMBER OF PLATFORMS INCLUDES DATA FOR YOUTUBE.</span>
<span class="t" style="left:57.38px;top:524.25px;font-size:8.14px;font-weight:700;color:#ff9800;transform:scaleX(0.9609);-webkit-text-stroke:0.15px #ff9800;">ADVISORY:</span>
<span class="t" style="left:101.03px;top:524.25px;font-size:8.14px;font-weight:400;color:#8c8c8c;transform:scaleX(0.8595);">SOCIAL MEDIA USER IDENTITIES MAY NOT REPRESENT UNIQUE INDIVIDUALS. COMPARISONS WITH POPULATION AND INTERNET USERS MAY EXCEED 100% DUE TO DUPLICATE AND FAKE</span>
<span class="t" style="left:57.50px;top:534.25px;font-size:8.14px;font-weight:400;color:#8c8c8c;transform:scaleX(0.8476);">ACCOUNTS, USER AGE MISSTATEMENTS, DIFFERENT REPORTING PERIODS, AND DIFFERENCES BETWEEN CENSUS COUNTS AND RESIDENT POPULATIONS.</span>
<span class="t" style="left:585.36px;top:534.25px;font-size:8.14px;font-weight:700;color:#ff9800;transform:scaleX(0.9357);-webkit-text-stroke:0.15px #ff9800;">COMPARABILITY:</span>
<span class="t" style="left:651.37px;top:534.25px;font-size:8.14px;font-weight:400;color:#8c8c8c;transform:scaleX(0.9092);">SIGNIFICANT CHANGE TO</span>
<span class="t" style="left:56.96px;top:544.25px;font-size:8.14px;font-weight:400;color:#8c8c8c;transform:scaleX(0.8541);">METHODOLOGY FOR SURVEYING TIME SPENT. VALUES ARE NOT COMPARABLE WITH PREVIOUS REPORTS. SOURCE AND METHODOLOGY CHANGES; BASE REVISIONS. SEE</span>
<span class="t" style="left:642.42px;top:544.25px;font-size:8.14px;font-weight:400;color:#4caf50;transform:scaleX(0.9046);text-decoration:underline;text-decoration-thickness:.5px;text-underline-offset:1px;">NOTES ON DATA</span>
<span class="t" style="left:701.45px;top:544.25px;font-size:8.14px;font-weight:400;color:#8c8c8c;transform:scaleX(1.3416);">.</span>
<span class="t" style="left:20.13px;top:527.50px;font-size:11.63px;font-weight:700;color:#212121;transform:scaleX(1.0148);-webkit-text-stroke:0.25px #212121;">288</span>
<span class="t" style="left:797.29px;top:512.00px;font-size:16.86px;font-weight:700;color:#ffffff;transform:scaleX(1.1197);-webkit-text-stroke:0.5px #ffffff;">we</span>
<span class="t" style="left:796.69px;top:524.40px;font-size:16.86px;font-weight:700;color:#ffffff;transform:scaleX(1.1701);-webkit-text-stroke:0.5px #ffffff;">are</span>
<span class="t" style="left:796.43px;top:536.80px;font-size:16.86px;font-weight:700;color:#ffffff;transform:scaleX(1.0812);-webkit-text-stroke:0.5px #ffffff;">social</span>
<span class="t" style="left:893.92px;top:523.90px;font-size:19.48px;font-weight:400;color:#ffffff;transform:scaleX(1.0402);-webkit-text-stroke:0.4px #fff;">Meltwater</span>
<span class="t" style="left:207.53px;top:210.50px;font-size:5.52px;font-weight:700;color:#4d4d4d;transform:scaleX(1.0662);">KEPIOS</span>
<span class="t" style="left:582.43px;top:424.70px;font-size:5.67px;font-weight:700;color:#4d4d4d;transform:scaleX(1.0541);">KEPIOS</span>
<span class="t" style="left:385.25px;top:181.90px;font-size:14.58px;font-weight:700;color:#4d4d4d;transform:scaleX(1.1181);-webkit-text-stroke:0.5px #4d4d4d;">we</span>
<span class="t" style="left:384.73px;top:192.30px;font-size:14.58px;font-weight:700;color:#4d4d4d;transform:scaleX(1.1690);-webkit-text-stroke:0.5px #4d4d4d;">are</span>
<span class="t" style="left:384.51px;top:202.70px;font-size:14.58px;font-weight:700;color:#4d4d4d;transform:scaleX(1.0818);-webkit-text-stroke:0.5px #4d4d4d;">social</span>
<span class="t" style="left:760.25px;top:395.50px;font-size:14.58px;font-weight:700;color:#4d4d4d;transform:scaleX(1.1181);-webkit-text-stroke:0.5px #4d4d4d;">we</span>
<span class="t" style="left:759.73px;top:405.90px;font-size:14.58px;font-weight:700;color:#4d4d4d;transform:scaleX(1.1690);-webkit-text-stroke:0.5px #4d4d4d;">are</span>
<span class="t" style="left:759.51px;top:416.30px;font-size:14.58px;font-weight:700;color:#4d4d4d;transform:scaleX(1.0768);-webkit-text-stroke:0.5px #4d4d4d;">social</span>
<span class="t" style="left:567.87px;top:207.00px;font-size:10.47px;font-weight:400;color:#4d4d4d;transform:scaleX(1.1340);">Meltwater</span>
<span class="t" style="left:380.06px;top:420.70px;font-size:10.03px;font-weight:400;color:#4d4d4d;transform:scaleX(1.1951);">Meltwater</span>
<span class="t" style="left:759.39px;top:200.60px;font-size:17.73px;font-weight:700;color:#4d4d4d;transform:scaleX(1.1043);-webkit-text-stroke:0.5px #4d4d4d;">GWI.</span>
<span class="t" style="left:304.10px;top:181.00px;font-size:13.08px;font-weight:700;color:#ffffff;transform:scaleX(1.2199);">90</span>
<span class="t" style="left:487.56px;top:181.00px;font-size:13.08px;font-weight:700;color:#ffffff;transform:scaleX(1.1644);">365</span>
<span class="t" style="left:307.65px;top:387.30px;font-size:10.17px;font-weight:700;color:#2196f3;transform:scaleX(0.8648);">18</span>
</div>
</body></html>
